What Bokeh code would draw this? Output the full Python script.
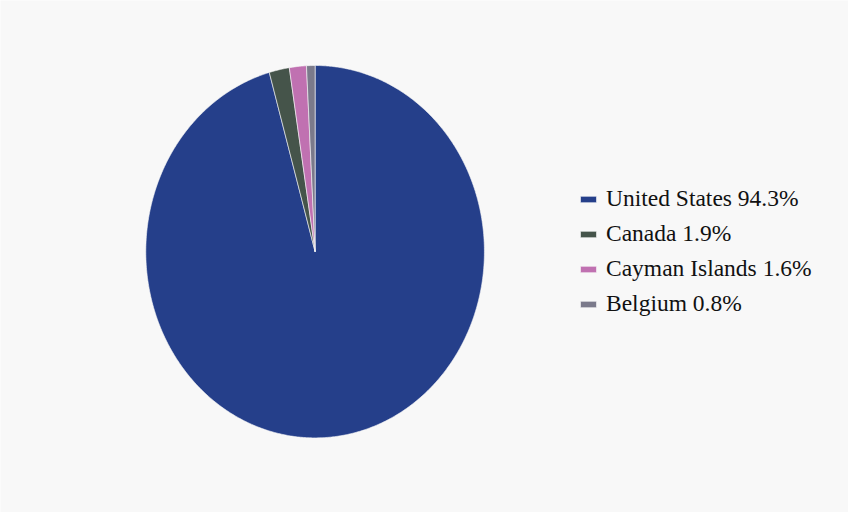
import numpy as np
from bokeh.plotting import figure
from bokeh.models import Range1d, Legend, LegendItem
from bokeh.embed import file_html
from bokeh.resources import INLINE

countries = ["United States", "Canada", "Cayman Islands", "Belgium"]
shares = [94.3, 1.9, 1.6, 0.8]
colors = ["#253f8a", "#45544a", "#c071b1", "#7b7a8b"]

W, H = 848, 512
BG = "#f8f8f8"
cx, cy, rx, ry = 314.6, 251.2, 169.3, 186.2

p = figure(width=W, height=H, output_backend="svg", toolbar_location=None,
           x_range=Range1d(0, W), y_range=Range1d(H, 0),
           background_fill_color=BG, border_fill_color=BG,
           min_border=0, outline_line_color=None)
p.axis.visible = False
p.grid.visible = False

total = sum(shares)
start = 0.0
items = []
for name, v, c in zip(countries, shares, colors):
    end = start + v / total * 2 * np.pi
    n = max(int((end - start) / (2 * np.pi) * 720), 2)
    th = np.linspace(start, end, n)
    xs = np.concatenate([[cx], cx + rx * np.sin(th)])
    ys = np.concatenate([[cy], cy - ry * np.cos(th)])
    r = p.patch(xs, ys, fill_color=c, line_color=BG, line_width=0.6)
    items.append(LegendItem(label=f"{name} {v}%", renderers=[r]))
    start = end

legend = Legend(items=items, location=(578, 195), background_fill_alpha=0,
                border_line_color=None, padding=0, margin=0,
                glyph_width=20, glyph_height=8, label_height=20,
                spacing=8, label_standoff=8,
                label_text_font="Liberation Serif", label_text_font_size="23.5px",
                label_text_color="#111111")
p.add_layout(legend, "center")

open("out.html", "w").write(file_html(p, INLINE))
